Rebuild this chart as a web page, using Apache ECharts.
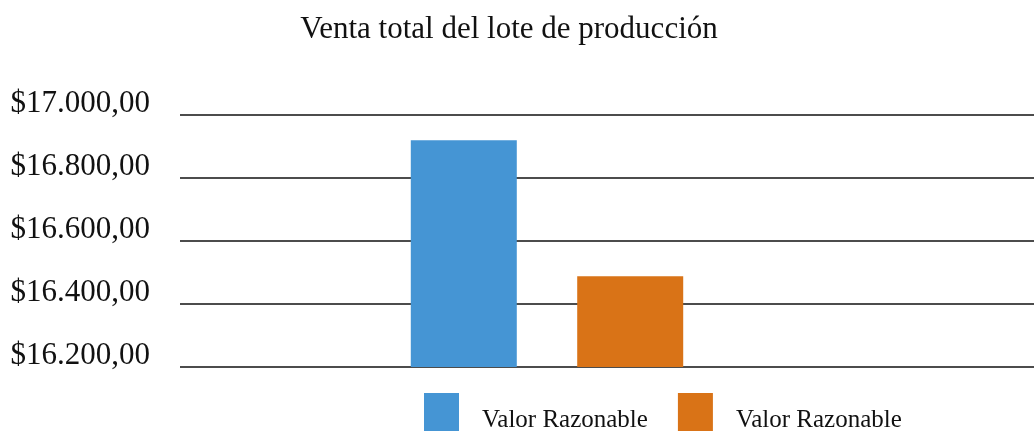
<!DOCTYPE html>
<html>
<head>
<meta charset="utf-8">
<script src="https://cdn.jsdelivr.net/npm/echarts@6/dist/echarts.min.js"></script>
<style>
  html, body { margin: 0; padding: 0; background: #fff; }
  #chart { width: 1034px; height: 435px; }
</style>
</head>
<body>
<div id="chart"></div>
<script>
// data
const categories = ['Venta total']
const seriesNames = ['Valor Razonable', 'Valor Razonable']
const seriesValues = [[16920], [16488]]
const seriesColors = ['#4595d4', '#d97317']
const yMin = 16200
const yMax = 17000
const yStep = 200

const fontFamily = '"Liberation Serif", "DejaVu Serif", serif'

const formatMoney = v => {
  const parts = v.toFixed(2).split('.')
  const intPart = parts[0].replace(/\B(?=(\d{3})+(?!\d))/g, '.')
  return '$' + intPart + ',' + parts[1]
}

const chart = echarts.init(document.getElementById('chart'))

const option = {
  backgroundColor: '#fff',
  animation: false,
  title: {
    text: 'Venta total del lote de producción',
    left: 504,
    textAlign: 'center',
    top: 9,
    textStyle: {
      fontFamily: fontFamily,
      fontWeight: 'normal',
      fontSize: 31,
      color: '#111'
    }
  },
  legend: {
    left: 424,
    top: 393,
    padding: 0,
    itemWidth: 35,
    itemHeight: 38,
    itemGap: 30,
    icon: 'rect',
    textStyle: {
      fontFamily: fontFamily,
      fontSize: 25,
      lineHeight: 25,
      color: '#111',
      padding: [0, 0, 0, 18],
      rich: {
        t: { fontFamily: fontFamily, fontSize: 25, color: '#111', padding: [16, 0, 0, 0] }
      }
    },
    formatter: name => '{t|' + name + '}',
    data: [
      { name: seriesNames[0], itemStyle: { color: seriesColors[0] } },
      { name: seriesNames[1] + ' ', itemStyle: { color: seriesColors[1] } }
    ]
  },
  grid: [
    { left: 180, right: 120, top: 115, bottom: 68 },
    { left: 180, right: 0, top: 115, bottom: 68 }
  ],
  xAxis: [
    {
      type: 'category',
      gridIndex: 0,
      data: categories,
      axisLine: { show: false },
      axisTick: { show: false },
      axisLabel: { show: false }
    },
    {
      type: 'category',
      gridIndex: 1,
      data: categories,
      show: false
    }
  ],
  yAxis: [
    {
      type: 'value',
      gridIndex: 0,
      min: yMin,
      max: yMax,
      interval: yStep,
      axisLine: { show: false },
      axisTick: { show: false },
      splitLine: { show: false },
      axisLabel: {
        margin: 30,
        verticalAlign: 'bottom',
        lineHeight: 22,
        fontFamily: fontFamily,
        fontSize: 31,
        color: '#111',
        formatter: formatMoney
      }
    },
    {
      type: 'value',
      gridIndex: 1,
      min: yMin,
      max: yMax,
      interval: yStep,
      axisLine: { show: false },
      axisTick: { show: false },
      axisLabel: { show: false },
      splitLine: { lineStyle: { color: '#111', width: 1.6 } }
    }
  ],
  series: [
    {
      name: seriesNames[0],
      type: 'bar',
      xAxisIndex: 0,
      yAxisIndex: 0,
      barWidth: 106,
      barGap: '57%',
      itemStyle: { color: seriesColors[0] },
      data: seriesValues[0]
    },
    {
      name: seriesNames[1] + ' ',
      type: 'bar',
      xAxisIndex: 0,
      yAxisIndex: 0,
      barWidth: 106,
      barGap: '57%',
      itemStyle: { color: seriesColors[1] },
      data: seriesValues[1]
    }
  ]
}

chart.setOption(option)
</script>
</body>
</html>
